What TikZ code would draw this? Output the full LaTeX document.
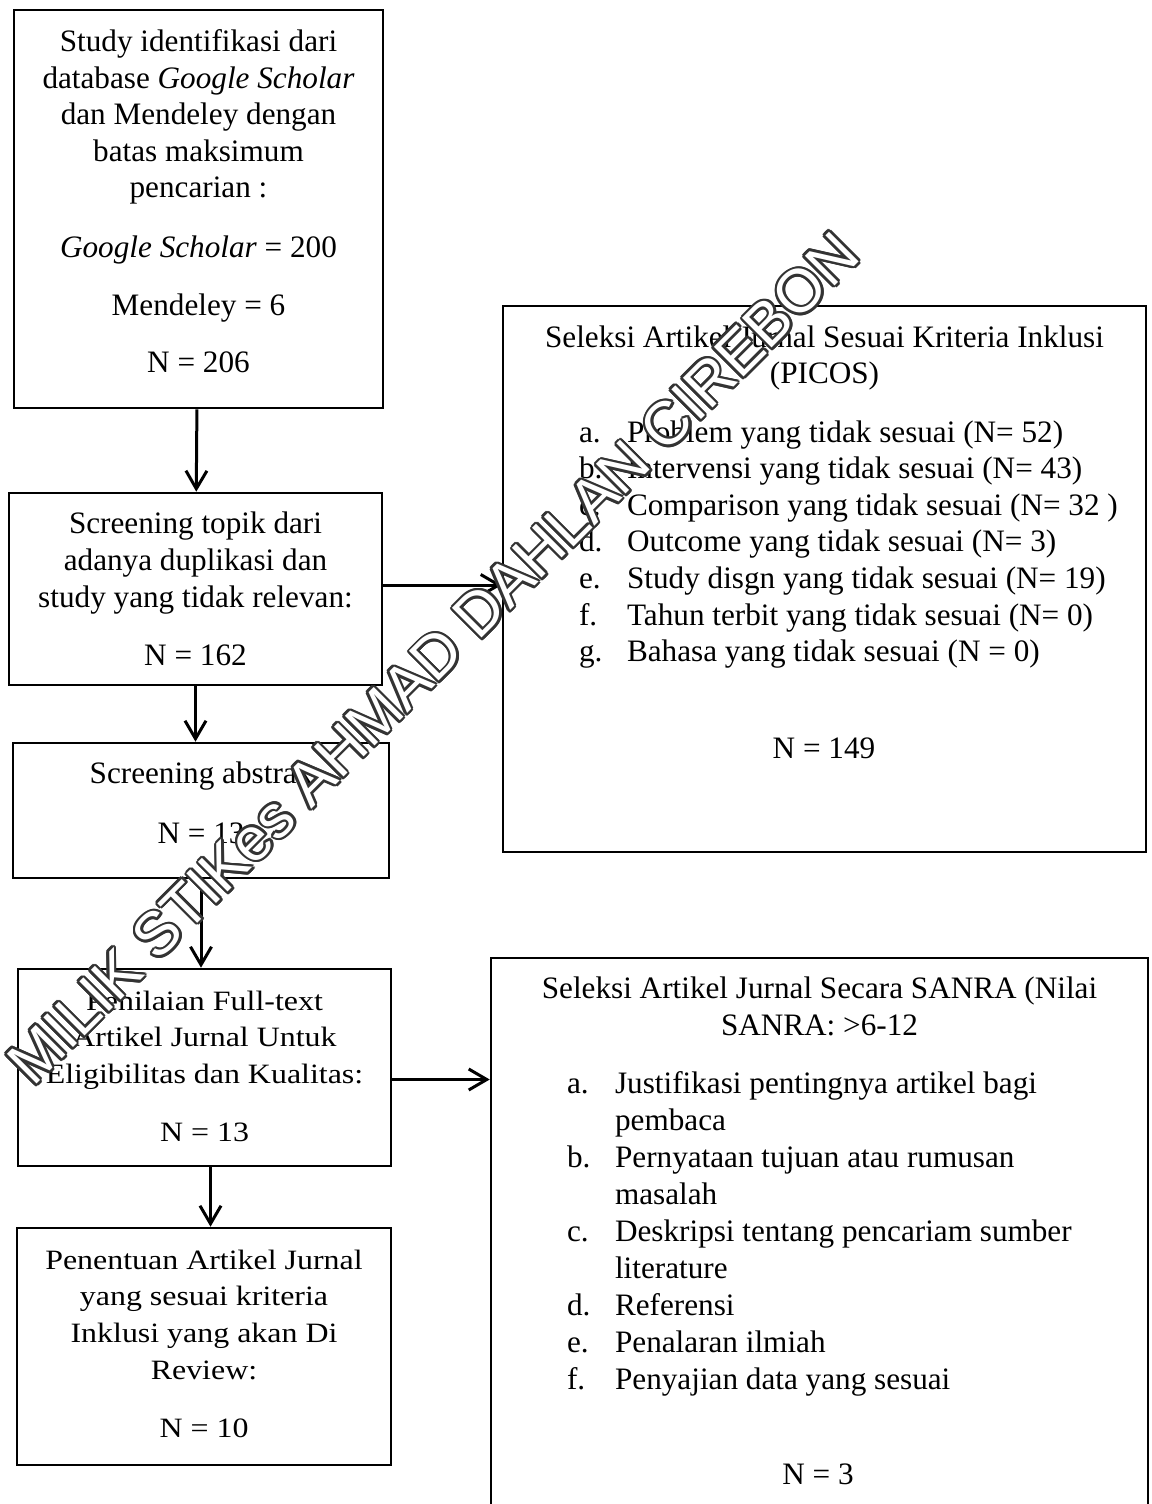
\documentclass[tikz,border=0pt]{standalone}
\usepackage{fontspec}
\setmainfont{Liberation Serif}
\newfontfamily\widefont[FakeStretch=1.14]{Liberation Serif}
\newfontfamily\wmfont{Liberation Sans}
\usetikzlibrary{arrows.meta}
\tikzset{
	box/.style={draw, line width=1.3pt, inner sep=0pt},
	txt/.style={anchor=base, font=\fontsize{15.6}{18.4}\selectfont},
	widetxt/.style={anchor=base, font=\widefont\fontsize{14}{18.4}\selectfont},
	lbl/.style={anchor=base west, font=\fontsize{15.6}{18.4}\selectfont},
	flow/.style={line width=1.5pt, -{Straight Barb[length=9pt,width=10.5pt]}},
	wmark/.style={rotate=45, font=\wmfont\fontsize{30.5}{30.5}\selectfont}
}
\begin{document}
\begin{tikzpicture}[x=0.5pt, y=-0.5pt]
	\useasboundingbox (0,0) rectangle (1151,1504);
	\clip (0,0) rectangle (1151,1504);

	\node[box, minimum width=184.5pt, minimum height=199pt] (ident) at (198.5,209) {};
	\node[box, minimum width=186.5pt, minimum height=96pt] (scr) at (195.5,589) {};
	\node[box, minimum width=188pt, minimum height=67.5pt] (abs) at (201,810.5) {};
	\node[box, minimum width=186.5pt, minimum height=98.5pt] (full) at (204.5,1067.5) {};
	\node[box, minimum width=187pt, minimum height=118.5pt] (rev) at (204,1346.5) {};
	\node[box, minimum width=321.5pt, minimum height=273pt] (picos) at (824.5,579) {};
	\node[box, minimum width=328.5pt, minimum height=291pt] (sanra) at (819.5,1249) {};

	\foreach \t [count=\i from 0] in {Study identifikasi dari, database \textit{Google Scholar}, dan Mendeley dengan, batas maksimum, pencarian :}
		\node[txt] (idl\i) at (198.5,{52+36.5*\i}) {\t};
	\node[txt] (idgs) at (198.5,257) {\textit{Google Scholar} = 200};
	\node[txt] (idmd) at (198.5,315) {Mendeley = 6};
	\node[txt] (idn) at (198.5,372) {N = 206};

	\foreach \t [count=\i from 0] in {Screening topik dari, adanya duplikasi dan, study yang tidak relevan:}
		\node[txt] (scrl\i) at (195.5,{533+37*\i}) {\t};
	\node[txt] (scrn) at (195.5,665) {N = 162};

	\node[txt] (absl) at (201,783) {Screening abstrak};
	\node[txt] (absn) at (201,843) {N = 13};

	\foreach \t [count=\i from 0] in {Penilaian Full-text, Artikel Jurnal Untuk, Eligibilitas dan Kualitas:}
		\node[widetxt] (fulll\i) at (204.5,{1010+36.5*\i}) {\t};
	\node[widetxt] (fulln) at (204.5,1141) {N = 13};

	\foreach \t [count=\i from 0] in {Penentuan Artikel Jurnal, yang sesuai kriteria, Inklusi yang akan Di, Review:}
		\node[widetxt] (revl\i) at (204,{1269+36.7*\i}) {\t};
	\node[widetxt] (revn) at (204,1437) {N = 10};

	\node[txt] (picost) at (824.5,347) {Seleksi Artikel Jurnal Sesuai Kriteria Inklusi};
	\node[txt] (picosp) at (824.5,383) {(PICOS)};
	\foreach \l/\t [count=\i from 0] in {a./Problem yang tidak sesuai (N= 52), b./Intervensi yang tidak sesuai (N= 43), c./Comparison yang tidak sesuai (N= 32 ), d./Outcome yang tidak sesuai (N= 3), e./Study disgn yang tidak sesuai (N= 19), f./Tahun terbit yang tidak sesuai (N= 0), g./Bahasa yang tidak sesuai (N = 0)}{
		\node[lbl] (pl\i) at (572,{442+36.6*\i}) {\l};
		\node[lbl] (pi\i) at (620,{442+36.6*\i}) {\t};
	}
	\node[txt] (picosn) at (824,758) {N = 149};

	\node[txt] (sanrat) at (819.5,998) {Seleksi Artikel Jurnal Secara SANRA (Nilai};
	\node[txt] (sanras) at (819.5,1035) {SANRA: >6-12};
	\foreach \l/\t [count=\i from 0] in {a./Justifikasi pentingnya artikel bagi, /pembaca, b./Pernyataan tujuan atau rumusan, /masalah, c./Deskripsi tentang pencariam sumber, /literature, d./Referensi, e./Penalaran ilmiah, f./Penyajian data yang sesuai}{
		\node[lbl] (sl\i) at (560,{1093+37*\i}) {\l};
		\node[lbl] (si\i) at (608,{1093+37*\i}) {\t};
	}
	\node[txt] (sanran) at (818,1484) {N = 3};

	\draw[flow] (ident) -- (scr);
	\draw[flow] ([yshift=2pt]scr.east) -- ([yshift=2pt]scr.east -| picos.west);
	\draw[flow] (scr.south) -- (scr.south |- abs.north);
	\draw[flow] (abs.south) -- (abs.south |- full.north);
	\draw[flow] ([xshift=3pt]full.south) -- ([xshift=3pt]full.south |- rev.north);
	\draw[flow] ([yshift=-6pt]full.east) -- ([yshift=-6pt]full.east -| sanra.west);

	\foreach \a [count=\i] in {0,30,...,330}
		\node[wmark, text=black!80, shift={(\a:1.3pt)}] (wmo\i) at (433,658) {MILIK STIKes AHMAD DAHLAN CIREBON};
	\node[wmark, text=white] (wm) at (433,658) {MILIK STIKes AHMAD DAHLAN CIREBON};
\end{tikzpicture}
\end{document}
